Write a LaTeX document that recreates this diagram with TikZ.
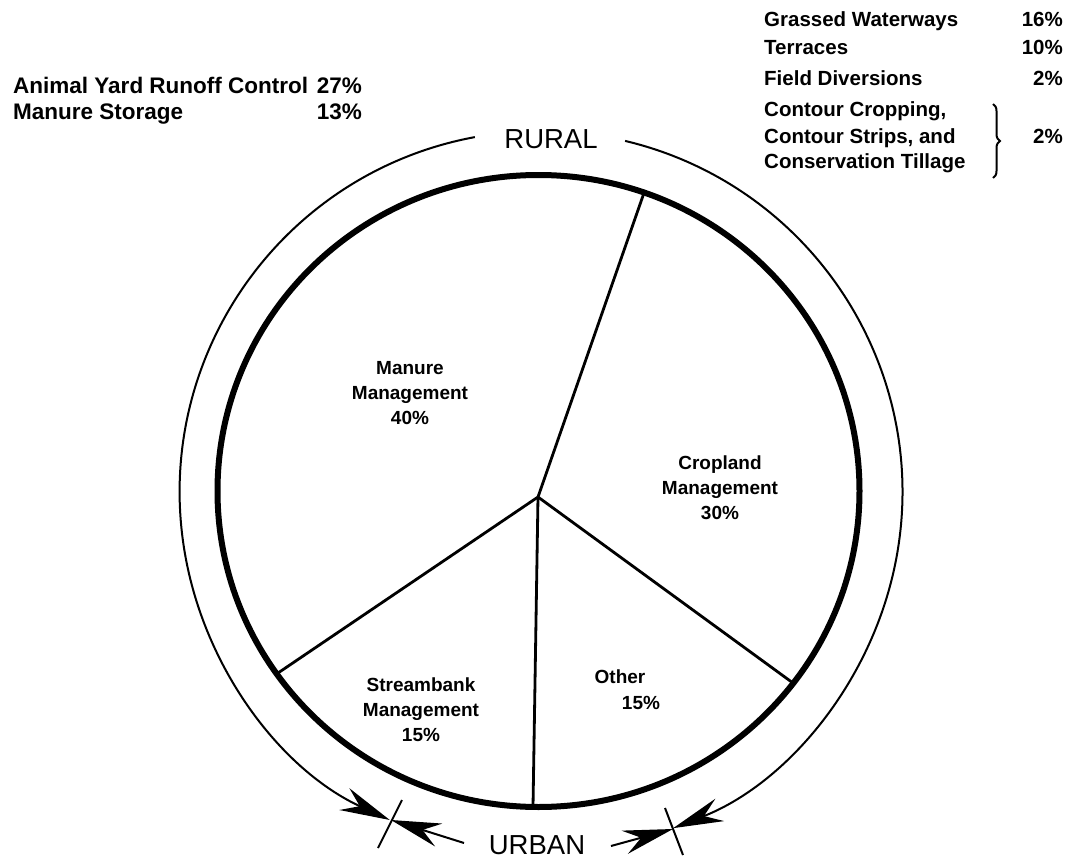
\documentclass[tikz,border=0pt]{standalone}
\usepackage{fontspec}
\setmainfont{Liberation Sans}
\usetikzlibrary{arrows.meta,decorations.pathreplacing}
\begin{document}
\begin{tikzpicture}[x=1pt,y=-1pt,
  rlbl/.style={font=\bfseries\fontsize{20.5}{24}\selectfont, inner sep=0pt},
  llbl/.style={font=\bfseries\fontsize{22.5}{26}\selectfont, inner sep=0pt},
  pielbl/.style={font=\bfseries\fontsize{19}{25}\selectfont, align=center, inner sep=0pt},
  biglbl/.style={font=\fontsize{27.5}{30}\selectfont, inner sep=0pt},
  rim/.style={line width=2pt},
  spoke/.style={line width=2.8pt},
  tickln/.style={line width=2pt},
  bigtip/.style={-{Stealth[length=50pt,width=24pt,inset=17pt]}},
]
\useasboundingbox (0,0) rectangle (1072,859);

% centres
\coordinate (O) at (541,494);
\coordinate (C) at (538.5,491);
\coordinate (P) at (538,497);
% spoke ends
\coordinate (A) at (645,190);
\coordinate (B) at (278,673);
\coordinate (Cr) at (793,683);
\coordinate (D) at (533,807);

% pie
\draw[line width=6pt] (C) ellipse [x radius=321, y radius=316];
\draw[spoke] (P) -- (A);
\draw[spoke] (P) -- (B);
\draw[spoke] (P) -- (Cr);
\draw[spoke] (P) -- (D);

% outer arcs
\draw[rim,bigtip] (O) ++(259.5:363) arc[start angle=259.5, end angle=114.7, radius=361];
\draw[rim,bigtip] (O) ++(283.4:363) arc[start angle=283.4, end angle=428.6, radius=361];

% ticks
\coordinate (t1a) at (402,800); \coordinate (t1b) at (378,848);
\coordinate (t2a) at (665,808); \coordinate (t2b) at (683,855);
\draw[tickln] (t1a) -- (t1b);
\draw[tickln] (t2a) -- (t2b);

% inner arrows
\coordinate (u1s) at (464,843); \coordinate (u1e) at (391,820);
\coordinate (u2s) at (611,846); \coordinate (u2e) at (673,829);
\draw[rim,bigtip] (u1s) -- (u1e);
\draw[rim,bigtip] (u2s) -- (u2e);

% ring labels
\node[biglbl, anchor=base] (rural) at (551,148) {RURAL};
\node[biglbl, anchor=base] (urban) at (537,854) {URBAN};

% pie labels
\node[pielbl] (manure) at (410,393) {Manure\\Management\\40\%};
\node[pielbl] (crop) at (720,488) {Cropland\\Management\\30\%};
\node[pielbl] (stream) at (421,710) {Streambank\\Management\\15\%};
\node[pielbl] (other) at (620,677) {Other};
\node[pielbl] (otherp) at (641,703) {15\%};

% left list
\node[llbl, anchor=base west] (ay) at (13,93) {Animal Yard Runoff Control};
\node[llbl, anchor=base east] (ayp) at (362,93) {27\%};
\node[llbl, anchor=base west] (ms) at (13,119) {Manure Storage};
\node[llbl, anchor=base east] (msp) at (362,119) {13\%};

% right list
\node[rlbl, anchor=base west] (gw) at (764,27) {Grassed Waterways};
\node[rlbl, anchor=base east] (gwp) at (1063,27) {16\%};
\node[rlbl, anchor=base west] (te) at (764,55) {Terraces};
\node[rlbl, anchor=base east] (tep) at (1063,55) {10\%};
\node[rlbl, anchor=base west] (fd) at (764,86) {Field Diversions};
\node[rlbl, anchor=base east] (fdp) at (1063,86) {2\%};
\node[rlbl, anchor=base west] (cc) at (764,117) {Contour Cropping,};
\node[rlbl, anchor=base west] (cs) at (764,143) {Contour Strips, and};
\node[rlbl, anchor=base west] (ct) at (764,168) {Conservation Tillage};
\node[rlbl, anchor=base east] (ccp) at (1063,143) {2\%};
\coordinate (br1) at (993,104);
\coordinate (br2) at (993,178);
\draw[line width=2pt, decorate, decoration={brace, amplitude=7pt}] (br1) -- (br2);
\end{tikzpicture}
\end{document}
